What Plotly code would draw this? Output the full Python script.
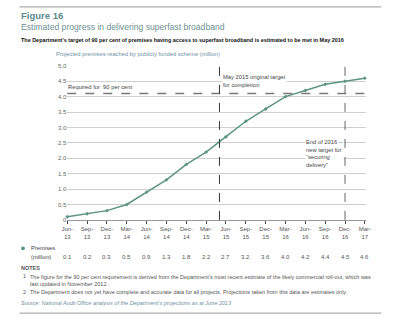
import plotly.graph_objects as go

quarters = ["Jun-13", "Sep-13", "Dec-13", "Mar-14", "Jun-14", "Sep-14", "Dec-14", "Mar-15",
            "Jun-15", "Sep-15", "Dec-15", "Mar-16", "Jun-16", "Sep-16", "Dec-16", "Mar-17"]
premises = [0.1, 0.2, 0.3, 0.5, 0.9, 1.3, 1.8, 2.2, 2.7, 3.2, 3.6, 4.0, 4.2, 4.4, 4.5, 4.6]
y_ticks = [0, 0.5, 1.0, 1.5, 2.0, 2.5, 3.0, 3.5, 4.0, 4.5, 5.0]
y_tick_labels = ["0", "0.5", "1.0", "1.5", "2.0", "2.5", "3.0", "3.5", "4.0", "4.5", "5.0"]
required_90 = 4.1
may_2015_pos = 7.67   # between Mar-15 and Jun-15
end_2016_pos = 14     # Dec-16

W, H = 400, 322
FONT = "Liberation Sans, Arial, sans-serif"
TEAL = "#5e9484"

def px(x):
    return x / W

def py(y):
    return 1 - y / H

idx = list(range(len(quarters)))
tick_text = [q.replace("-", "-<br>") for q in quarters]

fig = go.Figure()
fig.add_trace(go.Scatter(
    x=idx, y=premises, mode="lines+markers",
    line=dict(color=TEAL, width=1.5),
    marker=dict(symbol="diamond", size=3, color=TEAL),
    cliponaxis=False, showlegend=False, hoverinfo="skip"))

x0, x1 = 63, 370
y_top, y_bot = 64, 221
fig.update_layout(
    width=W, height=H, margin=dict(l=0, r=0, t=0, b=0),
    paper_bgcolor="white", plot_bgcolor="white",
    font=dict(family=FONT, color="#555", size=6),
    xaxis=dict(domain=[px(x0), px(x1)], range=[0, (x1 - x0) / 20.4],
               tickvals=idx, ticktext=tick_text, showgrid=False, zeroline=False,
               ticks="outside", ticklen=3, tickcolor="#444", tickwidth=1,
               showline=True, linecolor="#999", linewidth=1,
               tickfont=dict(size=6, color="#555")),
    yaxis=dict(domain=[py(y_bot), py(y_top)], range=[0, 5],
               tickvals=y_ticks, ticktext=y_tick_labels, showgrid=True,
               gridcolor="#cfcfcf", gridwidth=1, zeroline=False,
               ticks="", tickfont=dict(size=6, color="#666")),
)

shapes = []
# top and bottom rules
shapes.append(dict(type="line", xref="paper", yref="paper", x0=px(14), x1=px(386),
                   y0=py(4), y1=py(4), line=dict(color="#9a9a9a", width=1)))
shapes.append(dict(type="line", xref="paper", yref="paper", x0=px(14), x1=px(386),
                   y0=py(316), y1=py(316), line=dict(color="#9a9a9a", width=1)))
# 90 per cent requirement line
shapes.append(dict(type="line", xref="paper", yref="y", x0=px(x0), x1=px(x1),
                   y0=required_90, y1=required_90,
                   line=dict(color="#7a7a7a", width=1.6, dash="dash")))
# vertical target lines
shapes.append(dict(type="line", xref="x", yref="y", x0=may_2015_pos, x1=may_2015_pos,
                   y0=0, y1=5, line=dict(color="#333", width=1, dash="dash")))
shapes.append(dict(type="line", xref="x", yref="y", x0=end_2016_pos, x1=end_2016_pos,
                   y0=0, y1=5, line=dict(color="#666", width=1, dash="dash")))
# legend marker of the data table row
shapes.append(dict(type="circle", xref="paper", yref="paper",
                   x0=px(15.5), x1=px(19.5), y0=py(252), y1=py(248),
                   fillcolor=TEAL, line=dict(width=0)))
fig.update_layout(shapes=shapes)

ann = []
def text(x, y, s, size=6, color="#555", bold=False, italic=False, xanchor="left", **kw):
    if bold:
        s = "<b>" + s + "</b>"
    if italic:
        s = "<i>" + s + "</i>"
    ann.append(dict(x=px(x), y=py(y), xref="paper", yref="paper", text=s, showarrow=False,
                    xanchor=xanchor, yanchor="middle", align="left",
                    font=dict(size=size, color=color, family=FONT), **kw))

text(13, 12.5, "Figure 16", size=9.5, color="#5a8a8e", bold=True)
text(13, 24, "Estimated progress in delivering superfast broadband", size=8.6, color="#6d9194")
text(13, 38, "The Department's target of 90 per cent of premises having access to superfast broadband is estimated to be met in May 2016",
     size=5.45, color="#111", bold=True)
text(49, 52, "Projected premises reached by publicly funded scheme (million)", size=5.8, color="#6f8fa3")
text(62, 86, "Required for  90 per cent", size=5.8, color="#444")
text(222, 79.5, "May 2015 original target<br>for completion", size=5.8, color="#444",
     bgcolor="white", borderpad=0)
text(307, 153, "End of 2016 –<br>new target for<br>“securing<br>delivery”", size=5.8, color="#444",
     bgcolor="white", borderpad=0)

# data table row
text(24, 250, "Premises", size=5.8, color="#444")
text(24, 259, "(million)", size=5.8, color="#444")
for i, v in enumerate(premises):
    ann.append(dict(x=i, y=py(259), xref="x", yref="paper", text=f"{v:.1f}", showarrow=False,
                    xanchor="center", yanchor="middle",
                    font=dict(size=6, color="#555", family=FONT)))

text(13, 270.5, "NOTES", size=5.5, color="#555", bold=True)
text(15, 278.5, "1", size=5.5, color="#555")
text(23, 282.5, "The figure for the 90 per cent requirement is derived from the Department's most recent estimate of the likely commercial roll-out, which was<br>last updated in November 2012.",
     size=5.5, color="#555")
text(15, 294.5, "2", size=5.5, color="#555")
text(23, 294.5, "The Department does not yet have complete and accurate data for all projects. Projections taken from this data are estimates only.",
     size=5.5, color="#555")
text(13, 305.5, "Source: National Audit Office analysis of the Department's projections as at June 2013",
     size=5.5, color="#6f8fa3", italic=True)
fig.update_layout(annotations=ann)

fig.write_html("out.html")
